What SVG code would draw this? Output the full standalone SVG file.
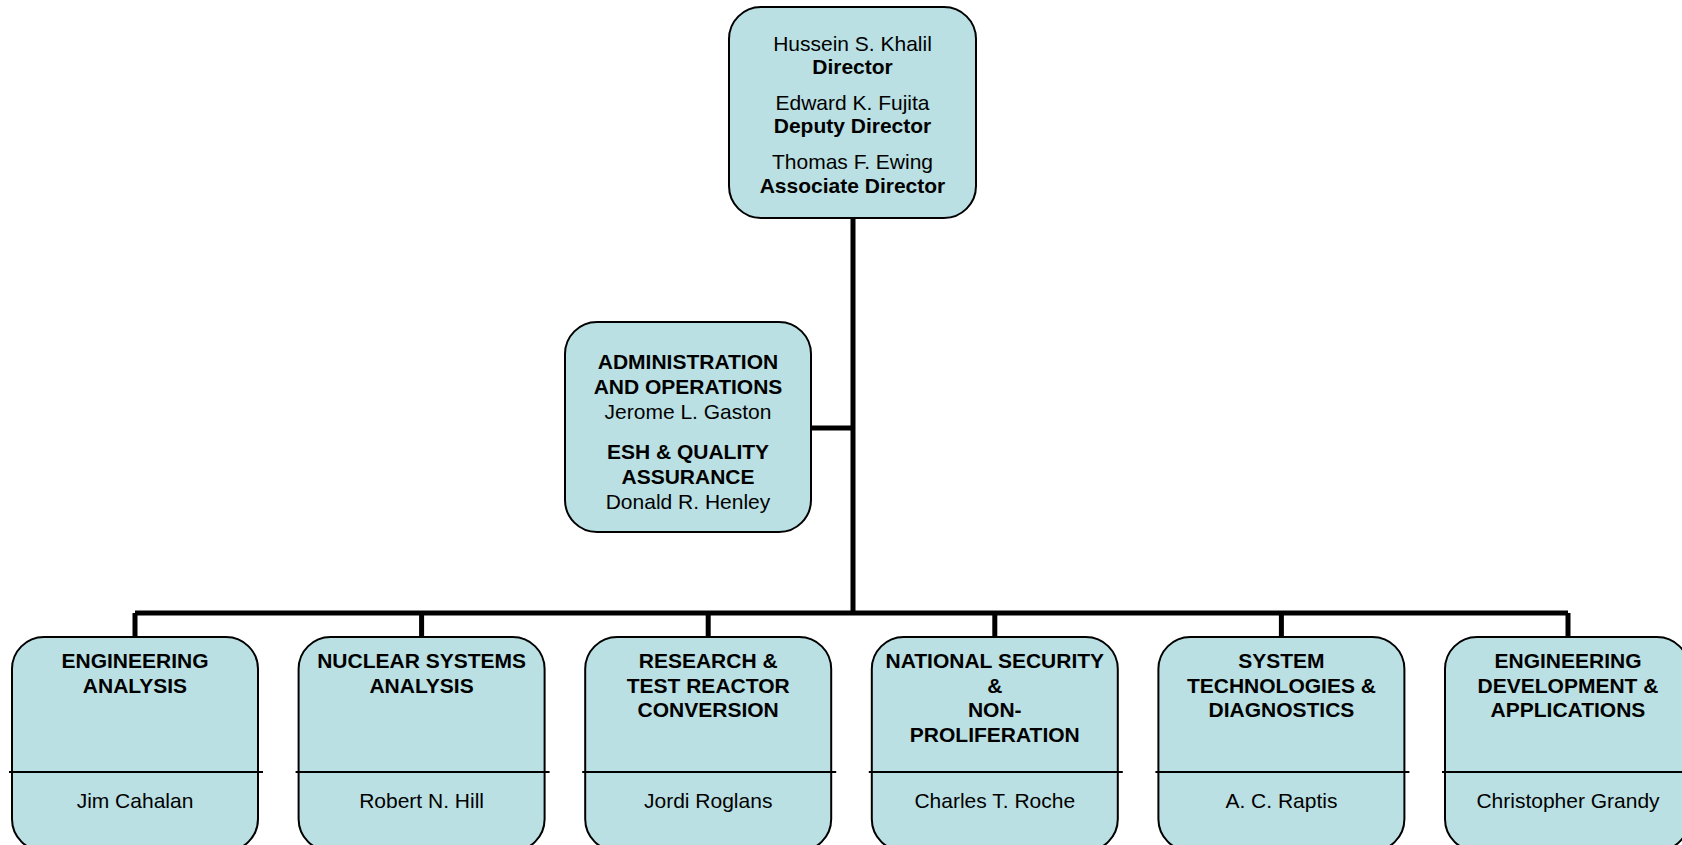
<svg xmlns="http://www.w3.org/2000/svg" width="1682" height="845" viewBox="0 0 1682 845">
<style>
.box{fill:#BAE0E3;stroke:#000;stroke-width:2}
.div{stroke:#000;stroke-width:2}
.con{fill:none;stroke:#000;stroke-width:5}
text{font-family:"Liberation Sans",Arial,sans-serif;font-size:21px;text-anchor:middle;fill:#000}
.b{font-weight:bold}
</style>
<rect width="1682" height="845" fill="#fff"/>
<g id="connectors">
<path class="con" d="M853 218V613M811 428H853M135 613H1568M135 613V637M421.6 613V637M708.2 613V637M994.8 613V637M1281.4 613V637M1568 613V637"/>
</g>
<g id="director">
<rect class="box" x="729" y="7" width="247" height="211" rx="32"/>
<text x="852.5" y="50.5">Hussein S. Khalil</text>
<text class="b" x="852.5" y="74">Director</text>
<text x="852.5" y="109.5">Edward K. Fujita</text>
<text class="b" x="852.5" y="133">Deputy Director</text>
<text x="852.5" y="168.5">Thomas F. Ewing</text>
<text class="b" x="852.5" y="193">Associate Director</text>
</g>
<g id="admin">
<rect class="box" x="565" y="322" width="246" height="210" rx="32"/>
<text class="b" x="688" y="369">ADMINISTRATION</text>
<text class="b" x="688" y="393.5">AND OPERATIONS</text>
<text x="688" y="418.5">Jerome L. Gaston</text>
<text class="b" x="688" y="459">ESH &amp; QUALITY</text>
<text class="b" x="688" y="483.5">ASSURANCE</text>
<text x="688" y="508.5">Donald R. Henley</text>
</g>
<g id="eng-analysis">
<rect class="box" x="12" y="637" width="246" height="214" rx="32"/>
<line class="div" x1="9" y1="772" x2="263" y2="772"/>
<text class="b" x="135" y="668">ENGINEERING</text>
<text class="b" x="135" y="692.5">ANALYSIS</text>
<text x="135" y="807.5">Jim Cahalan</text>
</g>
<g id="nuclear-systems">
<rect class="box" x="298.6" y="637" width="246" height="214" rx="32"/>
<line class="div" x1="295.6" y1="772" x2="549.6" y2="772"/>
<text class="b" x="421.6" y="668">NUCLEAR SYSTEMS</text>
<text class="b" x="421.6" y="692.5">ANALYSIS</text>
<text x="421.6" y="807.5">Robert N. Hill</text>
</g>
<g id="research-reactor">
<rect class="box" x="585.2" y="637" width="246" height="214" rx="32"/>
<line class="div" x1="582.2" y1="772" x2="836.2" y2="772"/>
<text class="b" x="708.2" y="668">RESEARCH &amp;</text>
<text class="b" x="708.2" y="692.5">TEST REACTOR</text>
<text class="b" x="708.2" y="717">CONVERSION</text>
<text x="708.2" y="807.5">Jordi Roglans</text>
</g>
<g id="national-security">
<rect class="box" x="871.8" y="637" width="246" height="214" rx="32"/>
<line class="div" x1="868.8" y1="772" x2="1122.8" y2="772"/>
<text class="b" x="994.8" y="668">NATIONAL SECURITY</text>
<text class="b" x="994.8" y="692.5">&amp;</text>
<text class="b" x="994.8" y="717">NON-</text>
<text class="b" x="994.8" y="741.5">PROLIFERATION</text>
<text x="994.8" y="807.5">Charles T. Roche</text>
</g>
<g id="system-tech">
<rect class="box" x="1158.4" y="637" width="246" height="214" rx="32"/>
<line class="div" x1="1155.4" y1="772" x2="1409.4" y2="772"/>
<text class="b" x="1281.4" y="668">SYSTEM</text>
<text class="b" x="1281.4" y="692.5">TECHNOLOGIES &amp;</text>
<text class="b" x="1281.4" y="717">DIAGNOSTICS</text>
<text x="1281.4" y="807.5">A. C. Raptis</text>
</g>
<g id="eng-development">
<rect class="box" x="1445" y="637" width="244" height="214" rx="32"/>
<line class="div" x1="1442" y1="772" x2="1696" y2="772"/>
<text class="b" x="1568" y="668">ENGINEERING</text>
<text class="b" x="1568" y="692.5">DEVELOPMENT &amp;</text>
<text class="b" x="1568" y="717">APPLICATIONS</text>
<text x="1568" y="807.5">Christopher Grandy</text>
</g>
</svg>
